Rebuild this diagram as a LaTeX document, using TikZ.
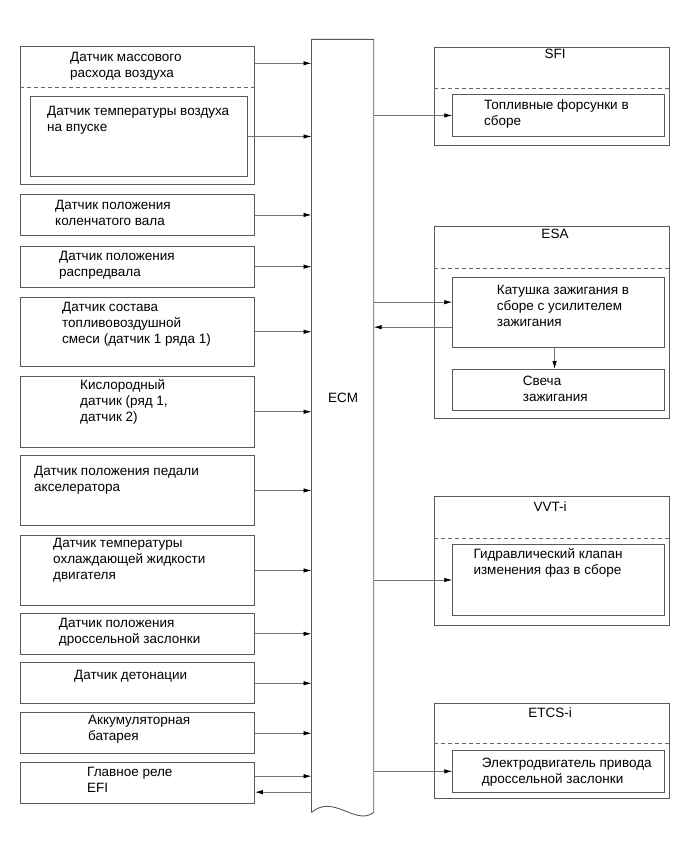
\documentclass[tikz,border=0pt]{standalone}
\usepackage{fontspec}
\setmainfont{Liberation Sans}
\usetikzlibrary{arrows.meta}

\begin{document}
\begin{tikzpicture}[x=1pt,y=-1pt,
  box/.style={draw=black!65,line width=.9pt,anchor=north west,inner sep=0pt},
  divider/.style={draw=black!60,line width=.9pt,dash pattern=on 4pt off 3pt},
  conn/.style={draw=black!55,line width=.8pt,-{Latex[length=8pt,width=4.5pt,color=black]}},
  txt/.style={anchor=base west,align=left,inner sep=0pt,font=\fontsize{13.5}{16}\selectfont},
  ttl/.style={anchor=base,inner sep=0pt,font=\fontsize{13.5}{16}\selectfont}]
  \useasboundingbox (0,0) rectangle (691,854);

  % ECM block with torn bottom edge
  \node[draw=none,anchor=north west,inner sep=0pt,minimum width=61.8pt,minimum height=772.7pt] (ecm) at (311.5,39.3) {};
  \draw[black!65,line width=.9pt] (ecm.south west) -- (ecm.north west) -- (ecm.north east) -- (ecm.south east)
    .. controls +(-18,14) and +(22,-19) .. (ecm.south west);
  \node[ttl] (ecmlbl) at (343,402.5) {ECM};

  % sensors (text nodes sit on the baseline of their last line)
  \node[box,minimum width=234pt,minimum height=138pt] (maf) at (20,46) {};
  \draw[divider] (maf.west |- 0,87.7) -- (maf.east |- 0,87.7);
  \node[txt] (maftxt) at (70,77.5) {Датчик массового\\расхода воздуха};
  \node[box,minimum width=217.3pt,minimum height=80pt] (iat) at (29.7,96) {};
  \node[txt] (iattxt) at (47,131.5) {Датчик температуры воздуха\\на впуске};

  \node[box,minimum width=234pt,minimum height=41pt] (crank) at (20,194) {};
  \node[txt] (cranktxt) at (55,225.5) {Датчик положения\\коленчатого вала};

  \node[box,minimum width=234pt,minimum height=41pt] (cam) at (20,245.7) {};
  \node[txt] (camtxt) at (59,276.5) {Датчик положения\\распредвала};

  \node[box,minimum width=234pt,minimum height=69.3pt] (afs) at (20,296.7) {};
  \node[txt] (afstxt) at (62,343) {Датчик состава\\топливовоздушной\\смеси (датчик 1 ряда 1)};

  \node[box,minimum width=234pt,minimum height=70.7pt] (oxy) at (20,376) {};
  \node[txt] (oxytxt) at (80,421.5) {Кислородный\\датчик (ряд 1,\\датчик 2)};

  \node[box,minimum width=234pt,minimum height=70pt] (pedal) at (20,455) {};
  \node[txt] (pedaltxt) at (34,491) {Датчик положения педали\\акселератора};

  \node[box,minimum width=234pt,minimum height=70pt] (cool) at (20,535) {};
  \node[txt] (cooltxt) at (53,579.5) {Датчик температуры\\охлаждающей жидкости\\двигателя};

  \node[box,minimum width=234pt,minimum height=41.3pt] (thr) at (20,612.7) {};
  \node[txt] (thrtxt) at (58.7,643) {Датчик положения\\дроссельной заслонки};

  \node[box,minimum width=234pt,minimum height=41pt] (knock) at (20,662.3) {};
  \node[txt] (knocktxt) at (74,679.5) {Датчик детонации};

  \node[box,minimum width=234pt,minimum height=41pt] (batt) at (20,712.3) {};
  \node[txt] (batttxt) at (88,740.5) {Аккумуляторная\\батарея};

  \node[box,minimum width=234pt,minimum height=41.6pt] (relay) at (20,761.7) {};
  \node[txt] (relaytxt) at (87,792) {Главное реле\\EFI};

  % inputs to ECM
  \draw[conn] ([yshift=-17.3pt]maf.north east) -- ([yshift=-17.3pt]maf.north east -| ecm.west);
  \foreach \s in {iat,crank,cam,afs,oxy,pedal,cool,thr,knock,batt}
    \draw[conn] (\s.east) -- (\s.east -| ecm.west);
  \draw[conn] ([yshift=6.8pt]relay.east) -- ([yshift=6.8pt]relay.east -| ecm.west);
  \draw[conn] ([yshift=-9.2pt]relay.east -| ecm.west) -- ([yshift=-9.2pt]relay.east);

  % SFI
  \node[box,minimum width=234.5pt,minimum height=98.3pt] (sfi) at (434,46.7) {};
  \draw[divider] (sfi.west |- 0,88.3) -- (sfi.east |- 0,88.3);
  \node[ttl] (sfittl) at (555,58.5) {SFI};
  \node[box,minimum width=211.7pt,minimum height=42pt] (inj) at (452.3,94) {};
  \node[txt] (injtxt) at (484,125.5) {Топливные форсунки в\\сборе};

  % ESA
  \node[box,minimum width=234.5pt,minimum height=192.3pt] (esa) at (434,226) {};
  \draw[divider] (esa.west |- 0,268) -- (esa.east |- 0,268);
  \node[ttl] (esattl) at (555,238.5) {ESA};
  \node[box,minimum width=211.7pt,minimum height=70.6pt] (coil) at (452.3,276.7) {};
  \node[txt] (coiltxt) at (496.7,326.5) {Катушка зажигания в\\сборе с усилителем\\зажигания};
  \node[box,minimum width=211.7pt,minimum height=41pt] (plug) at (452.3,369) {};
  \node[txt] (plugtxt) at (522.7,401) {Свеча\\зажигания};

  % VVT-i
  \node[box,minimum width=234.5pt,minimum height=129pt] (vvt) at (434,496) {};
  \draw[divider] (vvt.west |- 0,538.3) -- (vvt.east |- 0,538.3);
  \node[ttl] (vvtttl) at (550,511) {VVT-i};
  \node[box,minimum width=211.7pt,minimum height=71pt] (ocv) at (452.3,544) {};
  \node[txt] (ocvtxt) at (473.3,574.5) {Гидравлический клапан\\изменения фаз в сборе};

  % ETCS-i
  \node[box,minimum width=234.5pt,minimum height=95.6pt] (etcs) at (434,702.7) {};
  \draw[divider] (etcs.west |- 0,743.3) -- (etcs.east |- 0,743.3);
  \node[ttl] (etcsttl) at (550,717.5) {ETCS-i};
  \node[box,minimum width=211.7pt,minimum height=41.7pt] (motor) at (452.3,750) {};
  \node[txt] (motortxt) at (481.7,783) {Электродвигатель привода\\дроссельной заслонки};

  % outputs from ECM
  \foreach \a in {inj,ocv,motor}
    \draw[conn] (\a.west -| ecm.east) -- (\a.west);
  \draw[conn] ([yshift=10.3pt]coil.west -| ecm.east) -- ([yshift=10.3pt]coil.west);
  \draw[conn] ([yshift=-14.7pt]coil.west) -- ([yshift=-14.7pt]coil.west -| ecm.east);
  \draw[conn] ([xshift=-4pt]coil.south) -- ([xshift=-4pt]plug.north);
\end{tikzpicture}
\end{document}
